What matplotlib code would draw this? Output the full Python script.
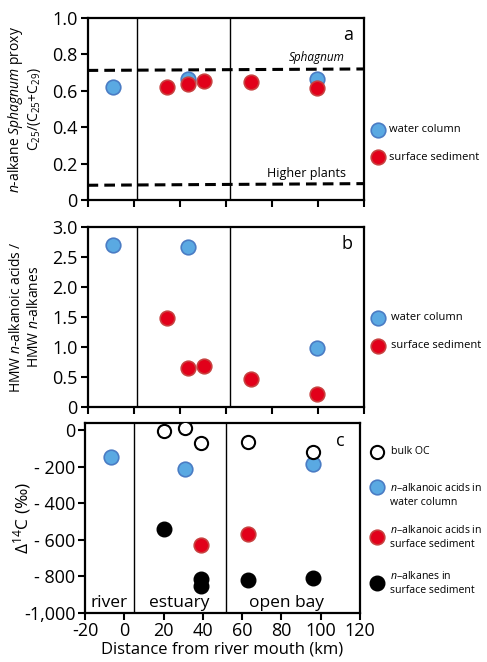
import matplotlib
matplotlib.use("Agg")
import matplotlib.pyplot as plt
from matplotlib.lines import Line2D
import numpy as np

plt.rcParams['font.family'] = ['Open Sans', 'DejaVu Sans']
plt.rcParams['mathtext.fontset'] = 'custom'
plt.rcParams['mathtext.rm'] = 'Open Sans'
plt.rcParams['mathtext.it'] = 'Open Sans:italic'

# ---------------- data ----------------
# panel a: Sphagnum proxy
a_wc_x = [-7, 31, 96]
a_wc_y = [0.62, 0.663, 0.667]
a_ss_x = [20, 31, 39, 63, 96]
a_ss_y = [0.62, 0.637, 0.652, 0.648, 0.614]
sphag_line_x = [-20, 120]
sphag_line_y = [0.712, 0.72]
higher_line_x = [-20, 120]
higher_line_y = [0.081, 0.09]

# panel b: acids / alkanes
b_wc_x = [-7, 31, 96]
b_wc_y = [2.71, 2.68, 0.99]
b_ss_x = [20, 31, 39, 63, 96]
b_ss_y = [1.49, 0.65, 0.69, 0.48, 0.23]

# panel c: D14C
c_bulk_x = [20, 31, 39, 63, 96]
c_bulk_y = [-4, 9, -73, -67, -119]
c_wc_x = [-7, 31, 96]
c_wc_y = [-150, -213, -186]
c_ss_x = [39, 63]
c_ss_y = [-628, -571]
c_alk_x = [20, 39, 39, 63, 96]
c_alk_y = [-542, -815, -852, -821, -812]

dividers = [5, 52]
regions = ['river', 'estuary', 'open bay']
region_x = [-7.5, 28, 82.5]

a_yticks = [0, 0.2, 0.4, 0.6, 0.8, 1.0]
a_ylabels = ['0', '0.2', '0.4', '0.6', '0.8', '1.0']
b_yticks = [0, 0.5, 1.0, 1.5, 2.0, 2.5, 3.0]
b_ylabels = ['0', '0.5', '1.0', '1.5', '2.0', '2.5', '3.0']
c_yticks = [0, -200, -400, -600, -800, -1000]
c_ylabels = ['0', '- 200', '- 400', '- 600', '- 800', '-1,000']
c_xticks = [-20, 0, 20, 40, 60, 80, 100, 120]

# ---------------- styles ----------------
blue = dict(marker='o', ms=10.5, mfc='#5aa9e2', mec='#4a7cc4', mew=1.2, ls='none')
red = dict(marker='o', ms=10.5, mfc='#e2001a', mec='#c8403f', mew=1.2, ls='none')
black = dict(marker='o', ms=10.5, mfc='black', mec='black', mew=1.0, ls='none')
openc = dict(marker='o', ms=9.5, mfc='white', mec='black', mew=1.5, ls='none')

W, H = 487, 662
fig = plt.figure(figsize=(W / 100, H / 100), dpi=100)

def rect(l, r, t, b):
    return [l / W, 1 - b / H, (r - l) / W, (b - t) / H]

axa = fig.add_axes(rect(87.5, 364, 18, 200))
axb = fig.add_axes(rect(87.5, 364, 227.3, 407.3))
axc = fig.add_axes(rect(85, 360, 423.3, 612.7))

tick_fs = 13
for ax in (axa, axb, axc):
    for s in ax.spines.values():
        s.set_linewidth(1.6)
    ax.tick_params(axis='both', direction='out', length=5, width=1.5,
                   labelsize=tick_fs, top=False, right=False, pad=2)
    ax.set_xlim(-20, 120)
    for d in dividers:
        ax.axvline(d, color='black', lw=1.0, zorder=1)

for ax in (axa, axb):
    ax.set_xticks(np.linspace(-20, 120, 7))
    ax.set_xticklabels([])

# panel a
axa.plot(sphag_line_x, sphag_line_y, color='black', ls=(0, (3.5, 2.0)), lw=2.2, zorder=2)
axa.plot(higher_line_x, higher_line_y, color='black', ls=(0, (3.5, 2.0)), lw=2.2, zorder=2)
axa.plot(a_wc_x, a_wc_y, zorder=3, **blue)
axa.plot(a_ss_x, a_ss_y, zorder=4, **red)
axa.set_ylim(0, 1.0)
axa.set_yticks(a_yticks)
axa.set_yticklabels(a_ylabels)
axa.text(0.96, 0.955, 'a', transform=axa.transAxes, ha='right', va='top', fontsize=13)
axa.text(96, 0.745, 'Sphagnum', style='italic', fontsize=8.5, ha='center', va='bottom')
axa.text(91, 0.11, 'Higher plants', fontsize=9, ha='center', va='bottom')
axa.set_ylabel(r'$\it{n}$-alkane $\it{Sphagnum}$ proxy' + '\n' + r'C$_{25}$/(C$_{25}$+C$_{29}$)',
               fontsize=10, linespacing=1.1)
axa.yaxis.set_label_coords(-0.16, 0.5)

# panel b
axb.plot(b_wc_x, b_wc_y, zorder=3, **blue)
axb.plot(b_ss_x, b_ss_y, zorder=4, **red)
axb.set_ylim(0, 3.0)
axb.set_yticks(b_yticks)
axb.set_yticklabels(b_ylabels)
axb.text(0.96, 0.955, 'b', transform=axb.transAxes, ha='right', va='top', fontsize=13)
axb.set_ylabel(r'HMW $\it{n}$-alkanoic acids /' + '\n' + r'HMW $\it{n}$-alkanes',
               fontsize=10, linespacing=1.25)
axb.yaxis.set_label_coords(-0.165, 0.5)

# panel c
axc.plot(c_bulk_x, c_bulk_y, zorder=4, **openc)
axc.plot(c_wc_x, c_wc_y, zorder=3, **blue)
axc.plot(c_ss_x, c_ss_y, zorder=3, **red)
axc.plot(c_alk_x, c_alk_y, zorder=3, **black)
axc.set_ylim(-1000, 37)
axc.set_yticks(c_yticks)
axc.set_yticklabels(c_ylabels)
axc.set_xticks(c_xticks)
axc.set_xticklabels([str(v) for v in c_xticks])
axc.text(0.945, 0.955, 'c', transform=axc.transAxes, ha='right', va='top', fontsize=13)
for lab, x in zip(regions, region_x):
    axc.text(x, -905, lab, ha='center', va='top', fontsize=12.5)
axc.set_ylabel(r'$\Delta^{14}$C (‰)', fontsize=12.5)
axc.yaxis.set_label_coords(-0.19, 0.5)
axc.set_xlabel('Distance from river mouth (km)', fontsize=12, labelpad=1)

# legends (manual, figure coordinates)
def key(x, y, style):
    fig.add_artist(Line2D([x / W], [1 - y / H], transform=fig.transFigure, **style))

def ktext(x, y, s, fs=8):
    fig.text(x / W, 1 - y / H, s, fontsize=fs, ha='left', va='center', linespacing=1.35)

key(378, 130, blue); ktext(389, 130, 'water column')
key(378, 157, red); ktext(389, 157, 'surface sediment')
key(378, 318, blue); ktext(391, 318, 'water column')
key(378, 346, red); ktext(391, 346, 'surface sediment')

key(377, 452, openc); ktext(391, 452, 'bulk OC', 7.6)
key(377, 487, blue); ktext(390, 495, r'$\it{n}$–alkanoic acids in' + '\n' + 'water column', 7.6)
key(377, 537, red); ktext(390, 537, r'$\it{n}$–alkanoic acids in' + '\n' + 'surface sediment', 7.6)
key(377, 583, black); ktext(390, 583, r'$\it{n}$–alkanes in' + '\n' + 'surface sediment', 7.6)

fig.savefig('out.png', dpi=100)
